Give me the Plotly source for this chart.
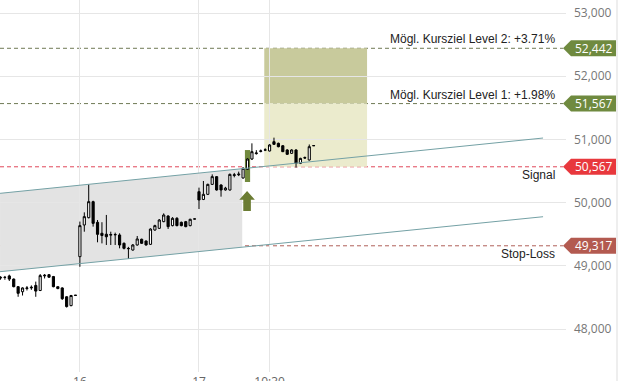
import plotly.graph_objects as go

# ---------------- data ----------------
candle_idx = list(range(72))
opens = [48820, 48815, 48840, 48790, 48670, 48590, 48640, 48650, 48690, 48610,
         48840, 48860, 48830, 48670, 48650, 48510, 48370, 48530,
         49145, 49646, 49762, 50015, 49688, 49515, 49500, 49485, 49490, 49488,
         49356, 49270, 49250, 49330, 49420, 49393, 49340, 49567, 49593, 49699,
         49788, 49636, 49752, 49688, 49699, 49636, 49740,
         50173, 50050, 50131, 50289, 50411, 50279, 50200, 50200, 50430, 50440,
         50390, 50527, 50690, 50775, 50810, 50830, 50817, 50964, 50938, 50900,
         50833, 50780, 50833, 50622, 50705, 50675, 50900]
highs = [48835, 48840, 48860, 48800, 48680, 48660, 48680, 48690, 48750, 48870,
         48870, 48870, 48840, 48670, 48660, 48520, 48540, 48535,
         49700, 49846, 50290, 50030, 49725, 49690, 49805, 49540, 49525, 49515,
         49370, 49300, 49345, 49472, 49430, 49400, 49593, 49650, 49740, 49830,
         49800, 49770, 49770, 49700, 49710, 49745, 49745,
         50237, 50342, 50300, 50447, 50420, 50290, 50250, 50460, 50470, 50490,
         50560, 50700, 50938, 50830, 50840, 50860, 50925, 51028, 50950, 50910,
         50845, 50845, 50845, 50710, 50730, 50920, 50904]
lows = [48780, 48780, 48760, 48660, 48510, 48530, 48610, 48620, 48510, 48600,
        48800, 48810, 48660, 48630, 48460, 48340, 48360, 48525,
        48985, 49540, 49750, 49620, 49372, 49355, 49330, 49330, 49330, 49277,
        49260, 49108, 49240, 49320, 49345, 49320, 49330, 49555, 49585, 49690,
        49583, 49625, 49625, 49625, 49610, 49625, 49738,
        49899, 50040, 50120, 50280, 50190, 50094, 50190, 50190, 50400, 50420,
        50380, 50520, 50674, 50760, 50795, 50815, 50810, 50915, 50875, 50800,
        50755, 50770, 50553, 50610, 50690, 50665, 50898]
closes = [48810, 48818, 48790, 48670, 48565, 48650, 48650, 48660, 48600, 48845,
          48850, 48820, 48670, 48640, 48480, 48355, 48530, 48535,
          49636, 49778, 50015, 49672, 49498, 49480, 49460, 49495, 49495, 49330,
          49277, 49275, 49330, 49425, 49356, 49330, 49582, 49636, 49725, 49804,
          49620, 49752, 49636, 49636, 49620, 49736, 49742,
          50042, 50131, 50289, 50411, 50200, 50200, 50230, 50447, 50440, 50450,
          50543, 50690, 50806, 50785, 50818, 50835, 50912, 50922, 50885, 50806,
          50764, 50833, 50622, 50700, 50712, 50885, 50902]

tick_pos = [18, 45, 61]
tick_text = ["16", "17", "10:30"]
y_ticks = [48000, 49000, 50000, 51000, 52000, 53000]

level_values = [52442, 51567, 50567, 49317]
level_tags = ["52,442", "51,567", "50,567", "49,317"]
level_texts = ["Mögl. Kursziel Level 2: +3.71%", "Mögl. Kursziel Level 1: +1.98%",
               "Signal", "Stop-Loss"]
level_colors = ["#6f8a3f", "#6f8a3f", "#e8383d", "#b35a50"]
level_line_colors = ["#6f7a55", "#6f7a55", "#e0485a", "#b0605a"]

chan_x = [-0.1, 123.0]
chan_upper = [50147, 51022]
chan_lower = [48907, 49777]
chan_fill_end = 54.8

target_x = [59.8, 83.1]
signal_idx = 56

# ---------------- figure ----------------
X_RANGE = [-0.11, 128.2]
Y_RANGE = [47320, 53206]
PLOT_W = 566
U_PER_PX = (Y_RANGE[1] - Y_RANGE[0]) / 372.0
IDX_PER_PX = (X_RANGE[1] - X_RANGE[0]) / PLOT_W

def line_at(x, ys):
    return ys[0] + (ys[1] - ys[0]) * (x - chan_x[0]) / (chan_x[1] - chan_x[0])

fig = go.Figure()

shapes = []
# grey channel area
shapes.append(dict(type="path", xref="x", yref="y", layer="below",
                   path=f"M {chan_x[0]},{chan_upper[0]} L {chan_fill_end},{line_at(chan_fill_end, chan_upper)} "
                        f"L {chan_fill_end},{line_at(chan_fill_end, chan_lower)} L {chan_x[0]},{chan_lower[0]} Z",
                   fillcolor="#e3e3e3", line=dict(width=0)))
# target boxes
shapes.append(dict(type="rect", xref="x", yref="y", layer="below",
                   x0=target_x[0], x1=target_x[1], y0=level_values[1], y1=level_values[0],
                   fillcolor="#c8ca9c", line=dict(width=0)))
shapes.append(dict(type="rect", xref="x", yref="y", layer="below",
                   x0=target_x[0], x1=target_x[1], y0=level_values[2], y1=level_values[1],
                   fillcolor="#ebebcd", line=dict(width=0)))
# signal highlight bar
bar_half = 2.6 * IDX_PER_PX
shapes.append(dict(type="rect", xref="x", yref="y", layer="below",
                   x0=signal_idx - bar_half, x1=signal_idx + bar_half,
                   y0=50326, y1=50832, fillcolor="#728a3e", line=dict(width=0)))
# level dashed lines
for v, c in zip(level_values, level_line_colors):
    shapes.append(dict(type="line", xref="paper", yref="y", layer="below",
                       x0=0, x1=563 / PLOT_W, y0=v, y1=v,
                       line=dict(color=c, width=1, dash="4px,3px")))
# up arrow
hw = 7.8 * IDX_PER_PX
sw = 3.8 * IDX_PER_PX
ax = signal_idx - 0.1
tip_v, base_v, bot_v = 50184, 50045, 49867
shapes.append(dict(type="path", xref="x", yref="y",
                   path=f"M {ax},{tip_v} L {ax + hw},{base_v} L {ax + sw},{base_v} L {ax + sw},{bot_v} "
                        f"L {ax - sw},{bot_v} L {ax - sw},{base_v} L {ax - hw},{base_v} Z",
                   fillcolor="#6b7c33", line=dict(width=0)))
# price tags on the right
h = 8 * U_PER_PX
tip_p, left_p, right_p = 563 / PLOT_W, 571 / PLOT_W, 616 / PLOT_W
for v, c in zip(level_values, level_colors):
    shapes.append(dict(type="path", xref="paper", yref="y",
                       path=f"M {tip_p},{v} L {left_p},{v + h} L {right_p},{v + h} "
                            f"L {right_p},{v - h} L {left_p},{v - h} Z",
                       fillcolor=c, line=dict(width=0)))
# right border line
shapes.append(dict(type="line", xref="paper", yref="paper", x0=617 / PLOT_W, x1=617 / PLOT_W,
                   y0=-0.05, y1=1.0, line=dict(color="#dddddd", width=1)))

# channel lines
fig.add_trace(go.Scatter(x=chan_x, y=chan_upper, mode="lines",
                         line=dict(color="#74a1a5", width=1), hoverinfo="skip", showlegend=False))
fig.add_trace(go.Scatter(x=chan_x, y=chan_lower, mode="lines",
                         line=dict(color="#74a1a5", width=1), hoverinfo="skip", showlegend=False))

fig.add_trace(go.Candlestick(
    x=candle_idx, open=opens, high=highs, low=lows, close=closes,
    increasing=dict(fillcolor="#ffffff", line=dict(color="#000000", width=1)),
    decreasing=dict(fillcolor="#000000", line=dict(color="#000000", width=1)),
    whiskerwidth=0, showlegend=False, hoverinfo="skip"))

annotations = []
for i, (v, t) in enumerate(zip(level_values, level_texts)):
    annotations.append(dict(xref="paper", yref="y", x=557 / PLOT_W, y=v, text=t,
                            xanchor="right", yanchor="bottom" if i < 2 else "top",
                            yshift=0 if i < 2 else 1, showarrow=False,
                            font=dict(family="Liberation Sans, Arial", size=12, color="#222222")))
for v, t in zip(level_values, level_tags):
    annotations.append(dict(xref="paper", yref="y", x=(593.5) / PLOT_W, y=v, text=t,
                            xanchor="center", yanchor="middle", showarrow=False,
                            font=dict(family="Open Sans", size=12, color="#ffffff")))

fig.update_layout(
    width=642, height=381,
    margin=dict(l=0, r=642 - PLOT_W, t=0, b=9, autoexpand=False),
    paper_bgcolor="#ffffff", plot_bgcolor="#ffffff",
    shapes=shapes, annotations=annotations,
    xaxis=dict(range=X_RANGE, tickmode="array", tickvals=tick_pos, ticktext=tick_text,
               showgrid=True, gridcolor="#e6e6e6", gridwidth=1, zeroline=False,
               rangeslider=dict(visible=False), showline=False, ticks="",
               ticklabelstandoff=1,
               tickfont=dict(family="Open Sans", size=12, color="#666666"), fixedrange=True),
    yaxis=dict(range=Y_RANGE, side="right", tickmode="array", tickvals=y_ticks,
               ticktext=[f"{v:,}" for v in y_ticks],
               showgrid=True, gridcolor="#e6e6e6", gridwidth=1, zeroline=False,
               showline=False, ticks="", ticklabelstandoff=7,
               tickfont=dict(family="Open Sans", size=12, color="#777777"), fixedrange=True),
    showlegend=False,
)

fig.write_html("out.html", config={"displayModeBar": False},
               post_script="document.body.style.margin='0';document.body.style.padding='0';"
                           "document.body.style.overflow='hidden';")
